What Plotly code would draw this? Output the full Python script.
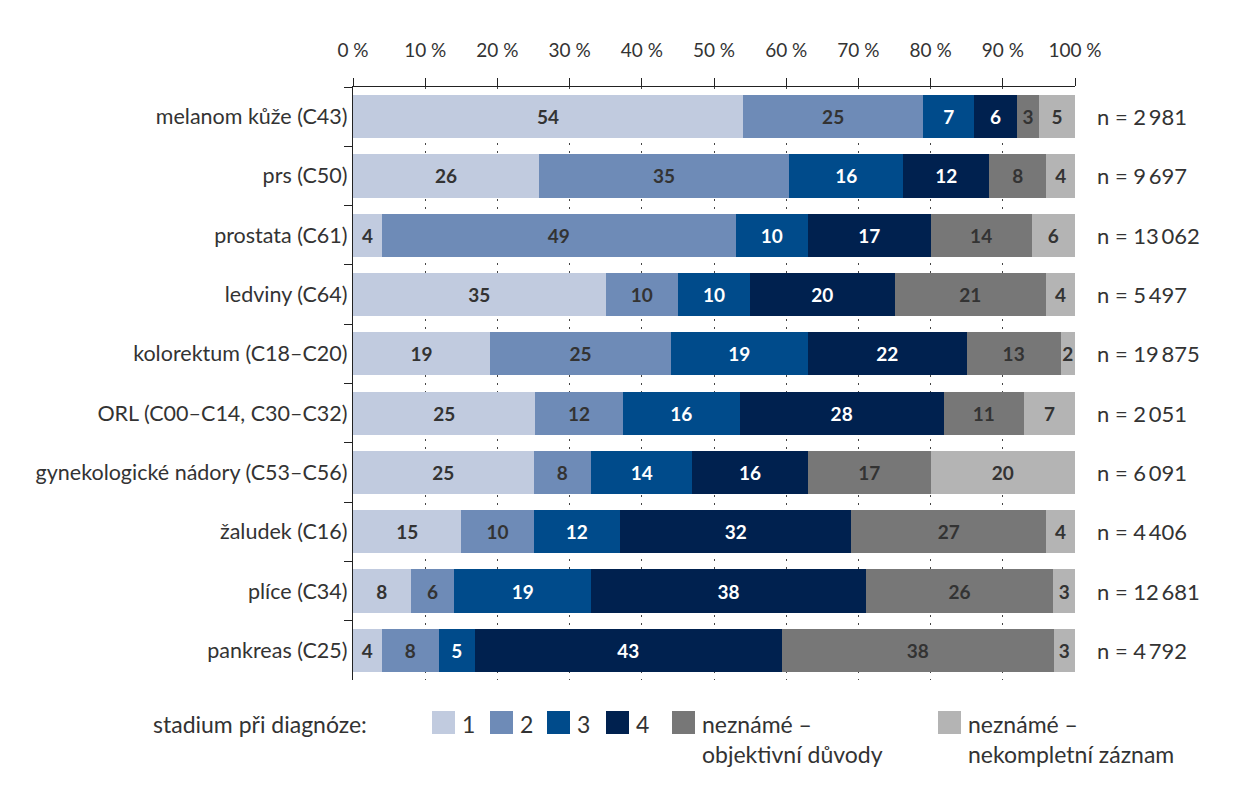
import plotly.graph_objects as go

# Data (percent per stage, rows top to bottom)
categories = [
    "melanom kůže (C43)",
    "prs (C50)",
    "prostata (C61)",
    "ledviny (C64)",
    "kolorektum (C18–C20)",
    "ORL (C00–C14, C30–C32)",
    "gynekologické nádory (C53–C56)",
    "žaludek (C16)",
    "plíce (C34)",
    "pankreas (C25)",
]
stage1 = [54, 26, 4, 35, 19, 25, 25, 15, 8, 4]
stage2 = [25, 35, 49, 10, 25, 12, 8, 10, 6, 8]
stage3 = [7, 16, 10, 10, 19, 16, 14, 12, 19, 5]
stage4 = [6, 12, 17, 20, 22, 28, 16, 32, 38, 43]
unknown_objective = [3, 8, 14, 21, 13, 11, 17, 27, 26, 38]
unknown_incomplete = [5, 4, 6, 4, 2, 7, 20, 4, 3, 3]
n_cases = [2981, 9697, 13062, 5497, 19875, 2051, 6091, 4406, 12681, 4792]

series_names = ["1", "2", "3", "4", "neznámé –<br>objektivní důvody", "neznámé –<br>nekompletní záznam"]
series_values = [stage1, stage2, stage3, stage4, unknown_objective, unknown_incomplete]
colors = ["#c1cbdf", "#6e8bb7", "#004b8b", "#00214f", "#777777", "#b4b4b4"]
text_colors = ["#333333", "#333333", "#ffffff", "#ffffff", "#333333", "#333333"]

FONT = "Lato"
# page body has an 8px margin, so the figure is drawn 8px smaller and offset
OFF = 8
W, H = 1233 - OFF, 800 - OFF
L, T = 353 - OFF, 87 - OFF
R, B = 158, 120


def px_x(p):
    # screen pixel -> paper x
    return (p - OFF - L) / (W - L - R)


def px_y(p):
    # screen pixel -> paper y
    return (H - B - (p - OFF)) / (H - B - T)


fig = go.Figure()
for name, vals, col, tcol in zip(series_names, series_values, colors, text_colors):
    fig.add_trace(go.Bar(
        y=categories,
        x=vals,
        name=name,
        orientation="h",
        marker=dict(color=col, line=dict(width=0)),
        text=[str(v) for v in vals],
        textposition="inside",
        insidetextanchor="middle",
        textangle=0,
        constraintext="none",
        insidetextfont=dict(family=FONT, size=19, color=tcol, weight="bold"),
        showlegend=False,
        hoverinfo="x+y",
    ))

# n labels to the right of each bar
for cat, n in zip(categories, n_cases):
    fig.add_annotation(
        x=px_x(1095), xref="paper", y=cat, yref="y",
        text="n = " + f"{n:,}".replace(",", "\u2009"),
        showarrow=False, xanchor="left", yanchor="middle",
        font=dict(family=FONT, size=22, color="#333333"),
    )

# legend drawn by hand (squares + labels)
fig.add_annotation(
    x=px_x(369), xref="paper", y=px_y(708), yref="paper",
    text="stadium při diagnóze:", showarrow=False,
    xanchor="right", yanchor="top",
    font=dict(family=FONT, size=23, color="#333333"),
)
legend_left = [432, 490, 547, 606, 672, 938]
for left, name, col in zip(legend_left, series_names, colors):
    fig.add_shape(
        type="rect", xref="paper", yref="paper",
        x0=px_x(left), x1=px_x(left + 23), y0=px_y(711), y1=px_y(734),
        fillcolor=col, line=dict(width=0),
    )
    fig.add_annotation(
        x=px_x(left + 28), xref="paper", y=px_y(708), yref="paper",
        text=name, showarrow=False, xanchor="left", yanchor="top", align="left",
        font=dict(family=FONT, size=23, color="#333333"),
    )

fig.update_layout(
    barmode="stack",
    barnorm="percent",
    bargap=0.27,
    width=W,
    height=H,
    margin=dict(l=L, r=R, t=T, b=B, autoexpand=False),
    plot_bgcolor="white",
    paper_bgcolor="white",
    font=dict(family=FONT, size=19, color="#333333"),
    xaxis=dict(
        side="top",
        range=[0, 100],
        tickmode="linear", tick0=0, dtick=10,
        ticksuffix="\u00a0%",
        ticks="outside", ticklen=8, tickcolor="#222222",
        ticklabelstandoff=13,
        showline=True, linecolor="#222222", linewidth=1.3,
        showgrid=True, gridcolor="#444444", gridwidth=1, griddash="2px,6px",
        zeroline=False,
        tickfont=dict(family=FONT, size=19, color="#333333"),
        fixedrange=True,
    ),
    yaxis=dict(
        autorange="reversed",
        tickson="boundaries",
        ticks="outside", ticklen=8, tickcolor="#222222",
        showline=True, linecolor="#222222", linewidth=1.3,
        showgrid=False,
        tickfont=dict(family=FONT, size=21.5, color="#333333"),
        fixedrange=True,
    ),
)

fig.write_html("out.html")
